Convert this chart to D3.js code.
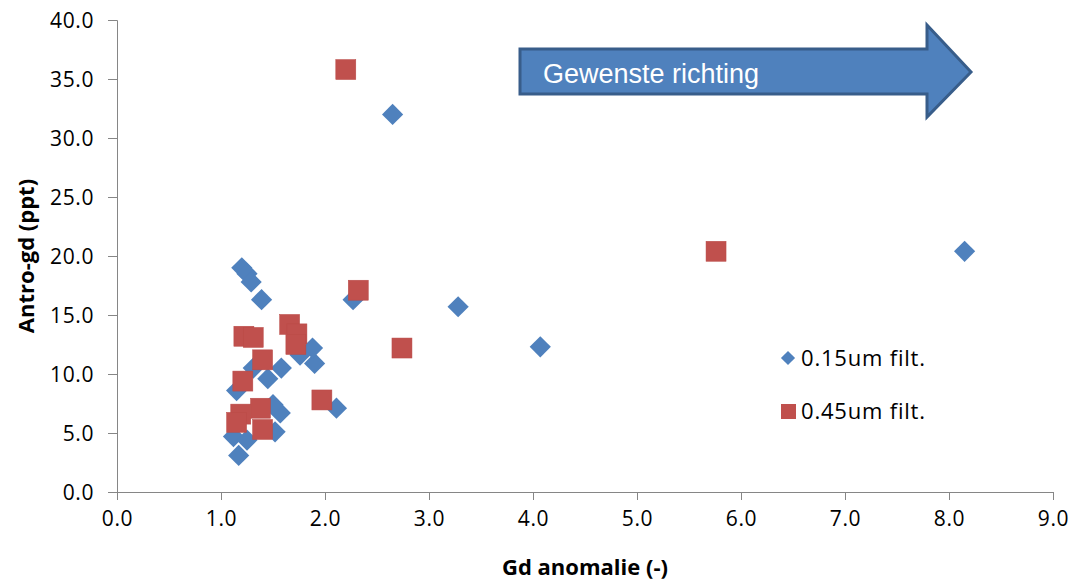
<!DOCTYPE html>
<html><head><meta charset="utf-8">
<script src="https://cdn.jsdelivr.net/npm/d3@7"></script>
<style>body{margin:0;background:#fff}svg{display:block}</style>
</head><body>
<svg id="c" width="1074" height="580"></svg>
<script>
const xTicks = [0,1,2,3,4,5,6,7,8,9];
const yTicks = [0,5,10,15,20,25,30,35,40];
const seriesNames = ["0.15um filt.", "0.45um filt."];
const blueX = [8.15,4.07,3.28,2.65,2.27,2.11,1.90,1.88,1.76,1.39,1.20,1.25,1.29,1.58,1.45,1.31,1.15,1.57,1.50,1.52,1.12,1.25,1.17];
const blueY = [20.4,12.3,15.7,32.0,16.3,7.1,10.9,12.2,11.6,16.3,19.0,18.5,17.8,10.5,9.6,10.5,8.6,6.7,7.4,5.1,4.7,4.4,3.1];
const redX = [2.20,5.76,2.32,2.74,1.97,1.66,1.73,1.72,1.22,1.31,1.40,1.21,1.38,1.19,1.15,1.40];
const redY = [35.8,20.4,17.1,12.2,7.8,14.2,13.4,12.5,13.2,13.1,11.2,9.4,7.1,6.6,5.9,5.3];
const arrowLabel = "Gewenste richting";
const xTitle = "Gd anomalie (-)";
const yTitle = "Antro-gd (ppt)";

const blue = "#4F81BD", red = "#C0504D", axisCol = "#868686";
const svg = d3.select("#c");
const x = d3.scaleLinear().domain([0,9]).range([117,1053]);
const y = d3.scaleLinear().domain([0,40]).range([492,20]);
const font = "'Open Sans', sans-serif";

// axes
const xa = svg.append("g").attr("transform",`translate(0,${y(0)})`)
  .call(d3.axisBottom(x).tickValues(xTicks).tickFormat(d3.format(".1f")).tickSizeOuter(0).tickSize(8).tickPadding(8));
const ya = svg.append("g").attr("transform",`translate(${x(0)},0)`)
  .call(d3.axisLeft(y).tickValues(yTicks).tickFormat(d3.format(".1f")).tickSizeOuter(0).tickSize(9).tickPadding(14));
[xa,ya].forEach(a=>{
  a.selectAll("path,line").attr("stroke",axisCol).attr("stroke-width",1);
  a.selectAll("text").attr("fill","#000").style("font-family",font).style("font-size","21px").style("letter-spacing","0.6px");
});
xa.selectAll("text").attr("dy","0.85em");
ya.selectAll("text").attr("dy","0.36em");

// titles
svg.append("text").attr("x",585).attr("y",575).attr("text-anchor","middle")
  .style("font-family",font).style("font-size","22px").style("font-weight","bold").text(xTitle);
svg.append("text").attr("transform","translate(34,256) rotate(-90)").attr("text-anchor","middle")
  .style("font-family",font).style("font-size","22px").style("font-weight","bold").text(yTitle);

// markers
const dsz = 15;
svg.append("g").selectAll("rect").data(blueX.map((v,i)=>[v,blueY[i]])).join("rect")
  .attr("x",-dsz/2).attr("y",-dsz/2).attr("width",dsz).attr("height",dsz)
  .attr("transform",d=>`translate(${x(d[0])},${y(d[1])}) rotate(45)`)
  .attr("fill",blue);
const ssz = 20;
svg.append("g").selectAll("rect").data(redX.map((v,i)=>[v,redY[i]])).join("rect")
  .attr("x",d=>x(d[0])-ssz/2).attr("y",d=>y(d[1])-ssz/2).attr("width",ssz).attr("height",ssz)
  .attr("fill",red).attr("stroke","#B94A47").attr("stroke-width",0.5);

// legend
const lg = svg.append("g");
lg.append("rect").attr("x",-5).attr("y",-5).attr("width",10).attr("height",10)
  .attr("transform","translate(788,358) rotate(45)").attr("fill",blue);
lg.append("rect").attr("x",781).attr("y",404).attr("width",15).attr("height",15).attr("fill",red);
lg.selectAll("text").data(seriesNames).join("text")
  .attr("x",801).attr("y",(d,i)=>358+i*53).attr("dy","0.36em")
  .style("font-family",font).style("font-size","22px").style("letter-spacing","0.8px").attr("fill","#000").text(d=>d);

// arrow
const ar = [[520,49],[927,49],[927,25],[971,72],[927,117],[927,94],[520,94]];
svg.append("path").attr("d",d3.line()(ar)+"Z").attr("fill",blue).attr("stroke","#385D8A").attr("stroke-width",3).attr("stroke-linejoin","miter");
svg.append("text").attr("x",543).attr("y",83).attr("fill","#fff")
  .style("font-family","'Liberation Sans', Arial, sans-serif").style("font-size","27px").text(arrowLabel);
</script>
</body></html>
